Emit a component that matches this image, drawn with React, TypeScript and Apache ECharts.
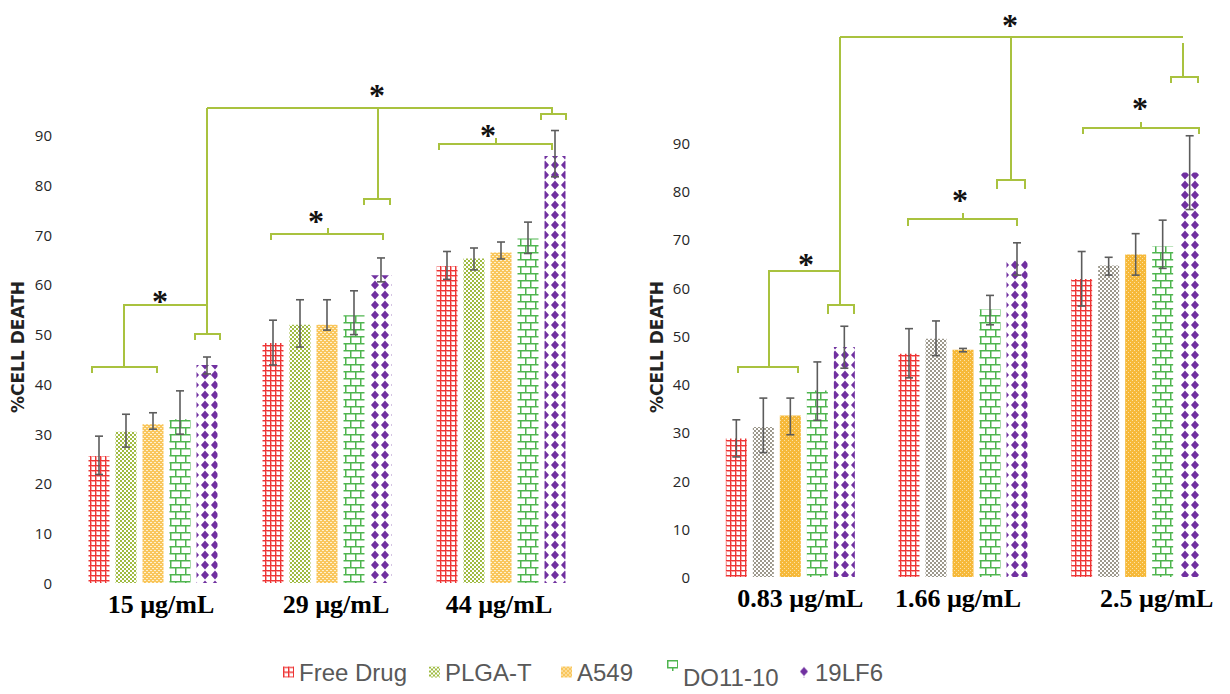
import React, { useEffect, useRef } from "react";
import * as echarts from "echarts";

// ---------------- data ----------------
const seriesNames = ["Free Drug", "PLGA-T", "A549", "DO11-10", "19LF6"];
const leftCategories = ["15 µg/mL", "29 µg/mL", "44 µg/mL"];
const rightCategories = ["0.83 µg/mL", "1.66 µg/mL", "2.5 µg/mL"];
const yTicks = [0, 10, 20, 30, 40, 50, 60, 70, 80, 90];

// left panel: mean, lower and upper error bounds (per series, per concentration)
const leftFreeDrug = [25.5, 48.2, 63.7];
const leftPlgaT = [30.4, 51.9, 65.2];
const leftA549 = [31.9, 51.9, 66.4];
const leftDO1110 = [32.9, 53.8, 69.2];
const left19LF6 = [43.8, 61.8, 85.8];

const leftLowFreeDrug = [21.8, 43.8, 61.0];
const leftLowPlgaT = [27.3, 47.4, 62.9];
const leftLowA549 = [30.9, 50.8, 65.1];
const leftLowDO1110 = [29.9, 49.9, 66.2];
const leftLow19LF6 = [42.0, 60.5, 81.6];

const leftHighFreeDrug = [29.5, 52.8, 66.6];
const leftHighPlgaT = [33.9, 56.9, 67.3];
const leftHighA549 = [34.2, 56.9, 68.5];
const leftHighDO1110 = [38.6, 58.7, 72.5];
const leftHigh19LF6 = [45.4, 65.3, 90.9];

// right panel
const rightFreeDrug = [28.7, 46.3, 61.8];
const rightPlgaT = [31.1, 49.4, 64.6];
const rightA549 = [33.5, 47.1, 66.9];
const rightDO1110 = [38.7, 55.5, 68.6];
const right19LF6 = [47.7, 65.7, 83.9];

const rightLowFreeDrug = [24.9, 41.3, 56.2];
const rightLowPlgaT = [25.8, 45.9, 62.6];
const rightLowA549 = [29.5, 46.7, 62.6];
const rightLowDO1110 = [32.5, 52.3, 64.0];
const rightLow19LF6 = [43.3, 62.6, 76.2];

const rightHighFreeDrug = [32.6, 51.5, 67.5];
const rightHighPlgaT = [37.1, 53.1, 66.3];
const rightHighA549 = [37.1, 47.4, 71.2];
const rightHighDO1110 = [44.6, 58.4, 74.0];
const rightHigh19LF6 = [52.0, 69.3, 91.5];

const leftValues = [leftFreeDrug, leftPlgaT, leftA549, leftDO1110, left19LF6];
const leftLows = [leftLowFreeDrug, leftLowPlgaT, leftLowA549, leftLowDO1110, leftLow19LF6];
const leftHighs = [leftHighFreeDrug, leftHighPlgaT, leftHighA549, leftHighDO1110, leftHigh19LF6];
const rightValues = [rightFreeDrug, rightPlgaT, rightA549, rightDO1110, right19LF6];
const rightLows = [rightLowFreeDrug, rightLowPlgaT, rightLowA549, rightLowDO1110, rightLow19LF6];
const rightHighs = [rightHighFreeDrug, rightHighPlgaT, rightHighA549, rightHighDO1110, rightHigh19LF6];

// ---------------- styling constants ----------------
const BAR_W = 21;
const BAR_GAP = 6;
const BAR_STEP = BAR_W + BAR_GAP;
const BRACKET = "#a9c23f";
const FONT = "'Liberation Sans', Arial, sans-serif";
// horizontal label nudges (px) that mimic the original's label placement
const leftLabelShift = [8, 9, -2];
const rightLabelShift = [10, -5, 21];

function tile(w: number, h: number, draw: (c: CanvasRenderingContext2D) => void) {
  const cv = document.createElement("canvas");
  cv.width = w;
  cv.height = h;
  const ctx = cv.getContext("2d")!;
  ctx.fillStyle = "#ffffff";
  ctx.fillRect(0, 0, w, h);
  draw(ctx);
  return { image: cv, repeat: "repeat", imageWidth: w, imageHeight: h } as any;
}

function makePatterns(right: boolean) {
  const grid = tile(5, 5, (c) => {
    c.fillStyle = "#f6a0a0";
    c.fillRect(0, 0, 5, 2);
    c.fillRect(0, 0, 2, 5);
    c.fillStyle = "#ee3434";
    c.fillRect(0, 0, 5, 1);
    c.fillRect(0, 0, 1, 5);
  });
  const checkColor = right ? "#9c988c" : "#9fbb42";
  const checker = tile(4, 4, (c) => {
    c.fillStyle = checkColor;
    c.fillRect(0, 0, 2, 2);
    c.fillRect(2, 2, 2, 2);
  });
  const dots = tile(4, 4, (c) => {
    c.fillStyle = right ? "#f6b93a" : "#f9c65c";
    c.fillRect(0, 0, 4, 4);
    c.fillStyle = right ? "#fde2a6" : "#fff1cf";
    c.fillRect(0, 0, 1, 1);
    c.fillRect(2, 2, 1, 1);
    if (!right) {
      c.fillRect(1, 0, 1, 1);
      c.fillRect(3, 2, 1, 1);
    }
  });
  const brick = tile(10, 14, (c) => {
    c.fillStyle = "#4fb54f";
    c.fillRect(0, 0, 10, 1.5);
    c.fillRect(0, 7, 10, 1.5);
    c.fillRect(0, 0, 1.5, 7);
    c.fillRect(5, 7, 1.5, 7);
  });
  const diamond = tile(10, 10, (c) => {
    c.fillStyle = "#7030a0";
    c.beginPath();
    c.moveTo(5, 0.5);
    c.lineTo(9, 5);
    c.lineTo(5, 9.5);
    c.lineTo(1, 5);
    c.closePath();
    c.fill();
  });
  return [grid, checker, dots, brick, diamond];
}

function bracketLines(): any[] {
  const lines: number[][][] = [
    // left panel
    [[92, 373], [92, 367], [157, 367], [157, 373]],
    [[124, 367], [124, 305], [207, 305]],
    [[207, 108], [207, 334]],
    [[195, 340], [195, 334], [220, 334], [220, 340]],
    [[207, 108], [552, 108], [552, 114]],
    [[541, 120], [541, 114], [566, 114], [566, 120]],
    [[378, 108], [378, 199]],
    [[364, 205], [364, 199], [390, 199], [390, 205]],
    [[271, 240], [271, 234], [383, 234], [383, 240]],
    [[328, 234], [328, 228]],
    [[439, 150], [439, 144], [552, 144], [552, 150]],
    [[496, 144], [496, 138]],
    // right panel
    [[738, 373], [738, 367], [798, 367], [798, 373]],
    [[769, 367], [769, 271], [840, 271]],
    [[840, 37], [840, 305]],
    [[828, 314], [828, 305], [854, 305], [854, 314]],
    [[840, 37], [1183, 37]],
    [[1183, 43], [1183, 77]],
    [[1171, 83], [1171, 77], [1198, 77], [1198, 83]],
    [[1011, 37], [1011, 180]],
    [[997, 189], [997, 180], [1025, 180], [1025, 189]],
    [[908, 226], [908, 219], [1017, 219], [1017, 226]],
    [[963, 219], [963, 213]],
    [[1083, 134], [1083, 128], [1199, 128], [1199, 134]],
    [[1141, 128], [1141, 122]],
  ];
  const stars: number[][] = [
    [160, 293], [377, 87], [316, 213], [488, 127],
    [806, 256], [1010, 17], [960, 192], [1140, 100],
  ];
  const els: any[] = lines.map((pts) => ({
    type: "polyline",
    silent: true,
    shape: { points: pts },
    style: { stroke: BRACKET, lineWidth: 2, fill: null },
  }));
  stars.forEach(([x, y]) =>
    els.push({
      type: "text",
      silent: true,
      x,
      y: y + 8,
      style: {
        text: "*",
        fontSize: 32,
        fontWeight: "bold",
        fontFamily: "'Liberation Serif', serif",
        fill: "#111",
        align: "center",
        verticalAlign: "middle",
      },
    })
  );
  [[18, 347], [657, 347]].forEach(([x, y]) =>
    els.push({
      type: "text",
      silent: true,
      x,
      y,
      rotation: Math.PI / 2,
      style: {
        text: "%CELL DEATH",
        fontSize: 17,
        fontWeight: "bold",
        fontFamily: "'DejaVu Sans', sans-serif",
        fill: "#222",
        align: "center",
        verticalAlign: "middle",
      },
    })
  );
  return els;
}

function errorSeries(lows: number[][], highs: number[][], axisIndex: number) {
  const data: number[][] = [];
  lows.forEach((row, s) => row.forEach((lo, c) => data.push([c, s, lo, highs[s][c]])));
  return {
    type: "custom",
    name: "err" + axisIndex,
    xAxisIndex: axisIndex,
    yAxisIndex: axisIndex,
    z: 10,
    clip: false,
    silent: true,
    encode: { x: 0, y: [2, 3] },
    data,
    renderItem: (_p: any, api: any) => {
      const c = api.value(0);
      const s = api.value(1);
      const lo = api.coord([c, api.value(2)]);
      const hi = api.coord([c, api.value(3)]);
      const x = lo[0] + (s - 2) * BAR_STEP;
      const style = { stroke: "#5c5c5c", lineWidth: 1.6 };
      return {
        type: "group",
        children: [
          { type: "line", shape: { x1: x, y1: hi[1], x2: x, y2: lo[1] }, style },
          { type: "line", shape: { x1: x - 4, y1: hi[1], x2: x + 4, y2: hi[1] }, style },
          { type: "line", shape: { x1: x - 4, y1: lo[1], x2: x + 4, y2: lo[1] }, style },
        ],
      };
    },
  };
}

function catData(cats: string[], shifts: number[]) {
  return cats.map((c, i) => ({
    value: c,
    textStyle: {
      padding: shifts[i] >= 0 ? [0, 0, 0, shifts[i] * 2] : [0, -shifts[i] * 2, 0, 0],
    },
  }));
}

export default function App() {
  const ref = useRef<HTMLDivElement>(null);
  useEffect(() => {
    document.body.style.margin = "0";
    const chart = echarts.init(ref.current!, null, { renderer: "svg" });
    const patterns = [makePatterns(false), makePatterns(true)];
    const valueSets = [leftValues, rightValues];

    const xAxisCommon = {
      type: "category",
      axisLine: { show: false },
      axisTick: { show: false },
      axisLabel: {
        interval: 0,
        color: "#000",
        fontSize: 26,
        fontWeight: "bold",
        fontFamily: "'Liberation Serif', 'Times New Roman', serif",
        margin: 8,
      },
    };
    const yAxisCommon = {
      type: "value",
      min: 0,
      max: 90,
      interval: 10,
      axisLine: { show: false },
      axisTick: { show: false },
      splitLine: { show: false },
      axisLabel: {
        color: "#262626",
        fontSize: 15,
        fontFamily: "'Open Sans', sans-serif",
        margin: 14,
        formatter: (v: number) => (yTicks.includes(v) ? String(v) : ""),
      },
    };

    const makeBars = (itemColor: (g: number, i: number, c: number) => any) => {
      const bars: any[] = [];
      [0, 1].forEach((g) =>
        seriesNames.forEach((name, i) => {
          bars.push({
            type: "bar",
            name,
            xAxisIndex: g,
            yAxisIndex: g,
            barWidth: BAR_W,
            barGap: (BAR_GAP / BAR_W) * 100 + "%",
            itemStyle: { color: patterns[g][i] },
            data: valueSets[g][i].map((v, c) => {
              const col = itemColor(g, i, c);
              return col ? { value: v, itemStyle: { color: col } } : v;
            }),
          });
        })
      );
      return bars;
    };

    const legendLeft = [278, 424, 556, 662, 794];
    const option: any = {
      animation: false,
      backgroundColor: "#ffffff",
      textStyle: { fontFamily: FONT },
      grid: [
        { left: 66, width: 522, top: 135, height: 448 },
        { left: 704, width: 518, top: 143, height: 434 },
      ],
      xAxis: [
        { ...xAxisCommon, gridIndex: 0, data: catData(leftCategories, leftLabelShift) },
        { ...xAxisCommon, gridIndex: 1, data: catData(rightCategories, rightLabelShift) },
      ],
      yAxis: [
        { ...yAxisCommon, gridIndex: 0 },
        { ...yAxisCommon, gridIndex: 1 },
      ],
      legend: seriesNames.map((n, i) => ({
        data: [n],
        left: legendLeft[i],
        top: i === 3 ? 655 : 655,
        itemWidth: 11,
        itemHeight: 11,
        icon: "rect",
        formatter: i === 3 ? "{lo|{name}}" : "{name}",
        textStyle: {
          fontSize: 24,
          color: "#595959",
          fontFamily: FONT,
          rich: {
            lo: { fontSize: 24, color: "#595959", fontFamily: FONT, padding: [24, 0, 0, 0] },
          },
        },
      })),
      series: [...makeBars(() => null), errorSeries(leftLows, leftHighs, 0), errorSeries(rightLows, rightHighs, 1)],
      graphic: bracketLines(),
    };
    chart.setOption(option);

    // align each bar's fill pattern with the bar's own left edge
    const aligned = makeBars((g, i, c) => {
      const center = chart.convertToPixel({ xAxisIndex: g } as any, c) as unknown as number;
      const leftEdge = center + (i - 2) * BAR_STEP - BAR_W / 2;
      let dx = leftEdge;
      if (i === 4) dx = g === 0 ? leftEdge + 0.5 : leftEdge - 4.5;
      if (i === 3) dx = leftEdge + 0.5;
      return { ...patterns[g][i], x: dx, y: 0 };
    });
    chart.setOption({ series: aligned });
    return () => chart.dispose();
  }, []);
  return <div ref={ref} style={{ width: 1230, height: 694 }} />;
}
